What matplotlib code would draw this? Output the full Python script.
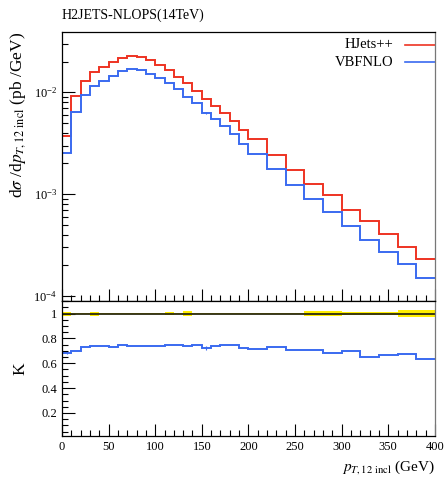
import numpy as np
import matplotlib
matplotlib.use("Agg")
import matplotlib.pyplot as plt
from matplotlib.ticker import MultipleLocator, LogLocator, NullFormatter

plt.rcParams['font.family'] = ['Liberation Serif', 'DejaVu Serif']
plt.rcParams['mathtext.fontset'] = 'stix'

# bin edges: 10 GeV up to 200, then 20 GeV up to 400
edges = list(range(0, 200, 10)) + list(range(200, 401, 20))

# HJets++ differential cross section (pb/GeV)
hjets = [3.7e-3, 9.2e-3, 0.0129, 0.0158, 0.0177, 0.0196, 0.0216, 0.0228, 0.0223, 0.0207,
         0.0186, 0.0165, 0.0142, 0.0122, 0.0104, 8.6e-3, 7.3e-3, 6.2e-3, 5.2e-3, 4.3e-3,
         3.44e-3, 2.41e-3, 1.74e-3, 1.27e-3, 9.7e-4, 6.95e-4, 5.4e-4, 4.08e-4, 3.04e-4, 2.33e-4]

# K = VBFNLO / HJets++
kfactor = [0.682, 0.695, 0.727, 0.735, 0.735, 0.733, 0.743, 0.735, 0.735, 0.735,
           0.740, 0.747, 0.750, 0.735, 0.748, 0.724, 0.742, 0.745, 0.750, 0.725,
           0.717, 0.727, 0.709, 0.709, 0.682, 0.697, 0.654, 0.668, 0.676, 0.638]
k_err = [0.004, 0, 0, 0, 0, 0, 0, 0, 0, 0,
         0, 0, 0, 0, 0, 0.016, 0, 0, 0, 0,
         0, 0, 0, 0, 0, 0, 0, 0, 0, 0]

# relative uncertainty of the HJets++ reference
ref_err = [0.016, 0.004, 0.004, 0.016, 0.004, 0.004, 0.004, 0.004, 0.004, 0.004,
           0.004, 0.010, 0.004, 0.022, 0.004, 0.004, 0.004, 0.004, 0.004, 0.004,
           0.004, 0.004, 0.004, 0.018, 0.018, 0.010, 0.010, 0.010, 0.025, 0.025]

edges = np.array(edges, dtype=float)
hjets = np.array(hjets)
kfactor = np.array(kfactor)
vbfnlo = hjets * kfactor
centers = 0.5 * (edges[:-1] + edges[1:])

red = '#EE3322'
blue = '#3A6AF0'

fig = plt.figure(figsize=(4.46, 4.78), dpi=100)
ax = fig.add_axes([0.139, 0.370, 0.836, 0.563])
rax = fig.add_axes([0.139, 0.088, 0.836, 0.282], sharex=ax)

ax.stairs(hjets, edges, color=red, lw=1.4, baseline=None)
ax.stairs(vbfnlo, edges, color=blue, lw=1.4, baseline=None)
ax.errorbar(centers, vbfnlo, yerr=vbfnlo * np.array(k_err), fmt='none',
            ecolor=blue, elinewidth=0.8)
ax.set_yscale('log')
ax.set_xlim(0, 400)
ax.set_ylim(8.9e-5, 0.039)
ax.yaxis.set_major_locator(LogLocator(base=10, numticks=10))
ax.yaxis.set_minor_locator(LogLocator(base=10, subs=np.arange(2, 10), numticks=20))
ax.yaxis.set_minor_formatter(NullFormatter())
ax.tick_params(axis='x', labelbottom=False)
ax.set_ylabel(r'd$\sigma$ /d$p_{T,12\ \mathrm{incl}}$ (pb /GeV)', fontsize=12.5, loc='top')
ax.yaxis.set_label_coords(-0.09, 1.0)

# legend entries
ax.text(0.89, 0.952, 'HJets++', transform=ax.transAxes, ha='right', va='center', fontsize=10.5)
ax.plot([0.92, 1.0], [0.952, 0.952], transform=ax.transAxes, color=red, lw=1.2)
ax.text(0.89, 0.888, 'VBFNLO', transform=ax.transAxes, ha='right', va='center', fontsize=10.5)
ax.plot([0.92, 1.0], [0.888, 0.888], transform=ax.transAxes, color=blue, lw=1.2)

fig.text(0.139, 0.968, 'H2JETS-NLOPS(14TeV)', ha='left', va='center', fontsize=10)

# ratio panel
band = np.array(ref_err)
rax.stairs(1 + band, edges, baseline=1 - band, fill=True, color='#FFEE00', lw=0)
rax.axhline(1.0, color='#2B2B10', lw=1.3)
rax.stairs(kfactor, edges, color=blue, lw=1.4, baseline=None)
rax.errorbar(centers, kfactor, yerr=k_err, fmt='none', ecolor=blue, elinewidth=0.8)
rax.set_ylim(0.015, 1.1)
rax.set_yticks([0.2, 0.4, 0.6, 0.8, 1.0])
rax.set_yticklabels(['0.2', '0.4', '0.6', '0.8', '1'])
rax.yaxis.set_minor_locator(MultipleLocator(0.05))
rax.set_ylabel('K', fontsize=12.5)
rax.yaxis.set_label_coords(-0.09, 0.5)
rax.set_xlabel(r'$p_{T,12\ \mathrm{incl}}$ (GeV)', fontsize=11, loc='right')

for a in (ax, rax):
    a.tick_params(which='both', direction='in', top=False, right=False, labelsize=9)
    a.tick_params(which='major', length=9, width=0.8)
    a.tick_params(which='minor', length=4.5, width=0.8)
    a.xaxis.set_minor_locator(MultipleLocator(10))
    a.xaxis.set_major_locator(MultipleLocator(50))
    for s in a.spines.values():
        s.set_linewidth(0.9)
ax.spines['right'].set_color('#777777')
rax.spines['right'].set_color('#777777')

fig.savefig('out.png', dpi=100)
